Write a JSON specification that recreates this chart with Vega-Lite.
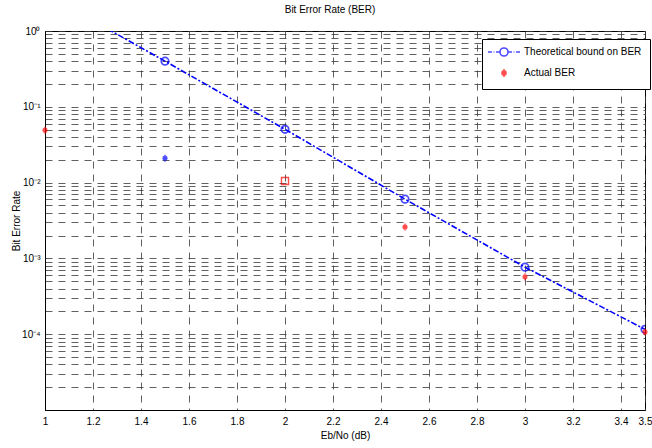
{
  "$schema": "https://vega.github.io/schema/vega-lite/v6.json",
  "width": 600,
  "height": 379,
  "autosize": {"type": "none"},
  "padding": {"left": 45, "top": 31, "right": 7, "bottom": 38},
  "background": "white",
  "title": {"text": "Bit Error Rate (BER)", "fontSize": 10, "font": "Liberation Sans", "fontWeight": "normal", "color": "black", "offset": 11, "dx": -15},
  "config": {
    "view": {"stroke": "black", "strokeWidth": 1},
    "axis": {
      "labelFont": "Liberation Sans", "labelFontSize": 10, "labelColor": "black",
      "titleFont": "Liberation Sans", "titleFontSize": 10, "titleFontWeight": "normal", "titleColor": "black",
      "domainColor": "black", "tickColor": "black", "gridColor": "#3a3a3a", "gridDash": [7, 6], "gridOpacity": 0.8, "gridWidth": 1
    }
  },
  "datasets": {
    "theory": [
      {"x": 1.0, "y": 3.1, "series": "Theoretical bound on BER"},
      {"x": 1.5, "y": 0.40, "series": "Theoretical bound on BER"},
      {"x": 2.0, "y": 0.0505, "series": "Theoretical bound on BER"},
      {"x": 2.5, "y": 0.00605, "series": "Theoretical bound on BER"},
      {"x": 3.0, "y": 0.000766, "series": "Theoretical bound on BER"},
      {"x": 3.5, "y": 0.000116, "series": "Theoretical bound on BER"}
    ],
    "actual": [
      {"x": 1.0, "y": 0.049, "series": "Actual BER"},
      {"x": 1.5, "y": 0.021, "series": "Actual BER"},
      {"x": 2.0, "y": 0.0105, "series": "Actual BER"},
      {"x": 2.5, "y": 0.0026, "series": "Actual BER"},
      {"x": 3.0, "y": 0.00057, "series": "Actual BER"},
      {"x": 3.5, "y": 0.000107, "series": "Actual BER"}
    ]
  },
  "encoding": {
    "x": {
      "field": "x", "type": "quantitative",
      "scale": {"domain": [1, 3.5], "nice": false, "zero": false},
      "axis": {"title": "Eb/No (dB)", "values": [1, 1.2, 1.4, 1.6, 1.8, 2, 2.2, 2.4, 2.6, 2.8, 3, 3.2, 3.4, 3.5], "format": "~g", "labelFlush": false, "labelOverlap": false, "tickSize": 0, "labelPadding": 6, "titlePadding": 4, "grid": true}
    },
    "y": {
      "field": "y", "type": "quantitative",
      "scale": {"type": "log", "domain": [0.00001, 1], "nice": false},
      "axis": {
        "title": "Bit Error Rate",
        "values": [0.00001, 0.00002, 0.00003, 0.00004, 0.00005, 0.00006, 0.00007, 0.00008, 0.00009, 0.0001, 0.0002, 0.0003, 0.0004, 0.0005, 0.0006, 0.0007, 0.0008, 0.0009, 0.001, 0.002, 0.003, 0.004, 0.005, 0.006, 0.007, 0.008, 0.009, 0.01, 0.02, 0.03, 0.04, 0.05, 0.06, 0.07, 0.08, 0.09, 0.1, 0.2, 0.3, 0.4, 0.5, 0.6, 0.7, 0.8, 0.9, 1],
        "labelExpr": "datum.value == 1 ? '10⁰' : datum.value == 0.1 ? '10⁻¹' : datum.value == 0.01 ? '10⁻²' : datum.value == 0.001 ? '10⁻³' : datum.value == 0.0001 ? '10⁻⁴' : ''",
        "labelOverlap": false, "labelFlush": false, "tickSize": 0, "labelPadding": 5, "titlePadding": 0, "grid": true
      }
    }
  },
  "layer": [
    {
      "data": {"name": "theory"},
      "mark": {"type": "line", "strokeDash": [6, 2, 2, 2], "strokeWidth": 1.6, "clip": true},
      "encoding": {
        "color": {"field": "series", "type": "nominal", "scale": {"domain": ["Theoretical bound on BER", "Actual BER"], "range": ["#0000ff", "#ff0000"]}}
      }
    },
    {
      "data": {"name": "theory"},
      "mark": {"type": "point", "filled": false, "strokeWidth": 1.8, "size": 55, "clip": true, "shape": "circle"},
      "encoding": {
        "color": {"field": "series", "type": "nominal", "scale": {"domain": ["Theoretical bound on BER", "Actual BER"], "range": ["#0000ff", "#ff0000"]},
          "legend": {
            "title": null, "orient": "none", "legendX": 437, "legendY": 8,
            "strokeColor": "black", "fillColor": "white", "padding": 8,
            "labelFont": "Liberation Sans", "labelFontSize": 10, "labelColor": "black",
            "symbolOffset": 9, "labelOffset": 15, "rowPadding": 5, "symbolSize": 64, "symbolStrokeWidth": 1.6,
            "symbolType": {"expr": "datum.value === 'Actual BER' ? 'M-0.75,0L0.75,0M0,-1L0,1M-0.55,-0.55L0.55,0.55M-0.55,0.55L0.55,-0.55' : 'M-4,0L-3,0M-2.6,0L-2.4,0M-2,0L-1,0M1,0L2,0M2.4,0L2.6,0M3,0L4,0M-1,0A1,1 0 1,0 1,0A1,1 0 1,0 -1,0'"}
          }
        }
      }
    },
    {
      "data": {"name": "actual"},
      "mark": {"type": "point", "filled": false, "strokeWidth": 1.4, "size": 50, "clip": false},
      "encoding": {
        "color": {"condition": {"test": "datum.x == 1.5", "value": "#0000ff"}, "field": "series", "type": "nominal", "scale": {"domain": ["Theoretical bound on BER", "Actual BER"], "range": ["#0000ff", "#ff0000"]}},
        "shape": {"condition": {"test": "datum.x == 2", "value": "square"}, "value": "M-0.75,0L0.75,0M0,-1L0,1M-0.55,-0.55L0.55,0.55M-0.55,0.55L0.55,-0.55"}
      }
    }
  ]
}
